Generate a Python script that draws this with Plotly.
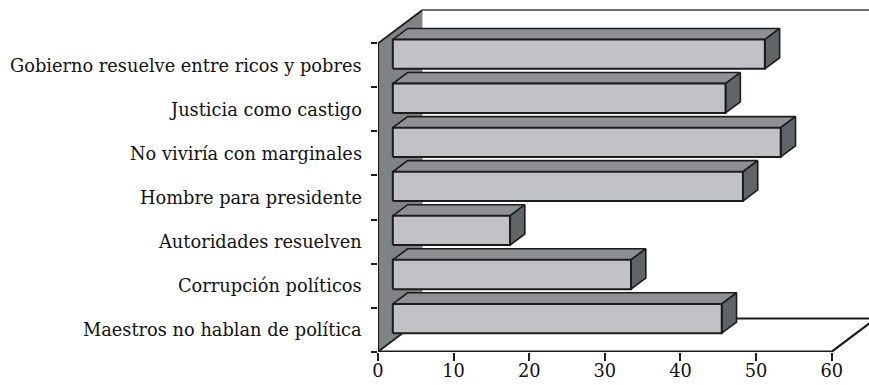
import plotly.graph_objects as go

# ---- data -------------------------------------------------------------
categories = [
    "Gobierno resuelve entre ricos y pobres",
    "Justicia como castigo",
    "No viviría con marginales",
    "Hombre para presidente",
    "Autoridades resuelven",
    "Corrupción políticos",
    "Maestros no hablan de política",
]
values = [49.2, 44.0, 51.3, 46.3, 15.5, 31.5, 43.5]
x_tickvals = [0, 10, 20, 30, 40, 50, 60]
x_ticktext = ["0", "10", "20", "30", "40", "50", "60"]

# ---- layout geometry --------------------------------------------------
W, H = 869, 385
X0_PX = 378.3          # screen x of value 0 on the front plane
PX_PER_X = 7.557       # pixels per value unit
Y0_PX = 351.7          # screen y of the front floor edge
PX_PER_Y = 44.06       # pixels per category band
PLOT_BOTTOM = 352
DEPTH_PX = (44.4, 33.3)  # oblique depth of the chart box (right, up)
X_MAX = 60

DX = DEPTH_PX[0] / PX_PER_X
DY = DEPTH_PX[1] / PX_PER_Y
BAR_H = 0.665            # bar thickness as a fraction of a category band
N = len(categories)

FONT = "DejaVu Serif"
EDGE = "#1c1c1c"
C_FRONT = "#c1c2c6"
C_TOP = "#8e9094"
C_SIDE = "#5f6567"
C_WALL = "#7f8385"

fig = go.Figure()


def poly(xs, ys, fill, lw=1.6, color=EDGE):
    fig.add_trace(go.Scatter(
        x=xs + xs[:1], y=ys + ys[:1], mode="lines", fill="toself",
        fillcolor=fill, line=dict(color=color, width=lw),
        hoverinfo="skip", showlegend=False))


def seg(xs, ys, lw=2, color=EDGE):
    fig.add_trace(go.Scatter(
        x=xs, y=ys, mode="lines", line=dict(color=color, width=lw),
        hoverinfo="skip", showlegend=False))


# left wall
fig.add_trace(go.Scatter(
    x=[0, 0, DX, DX, 0], y=[0, N, N + DY, DY, 0], mode="lines",
    fill="toself", fillcolor=C_WALL, line=dict(width=0),
    hoverinfo="skip", showlegend=False))
seg([0, DX], [N, N + DY], lw=1.8)
seg([0, DX], [0, DY], lw=1.8)
# back wall top edge and floor back edge
seg([DX, X_MAX + DX], [N + DY, N + DY], lw=1.6, color="#3a3a3a")
seg([DX, X_MAX + DX], [DY, DY], lw=2)
# front floor edge and right floor edge
seg([0, X_MAX, X_MAX + DX], [0, 0, DY], lw=2.2)
# category axis line
seg([0, 0], [0, N], lw=2.2)

# bars (front face at one third of the depth, back at two thirds)
fx, fy = DX / 3, DY / 3
bx, by = 2 * DX / 3, 2 * DY / 3
for k, (cat, v) in enumerate(zip(categories, values)):
    j = N - 1 - k
    y0 = j + 0.5 - BAR_H / 2
    y1 = j + 0.5 + BAR_H / 2
    # top face
    poly([fx, fx + v, bx + v, bx], [y1 + fy, y1 + fy, y1 + by, y1 + by], C_TOP)
    # side face
    poly([fx + v, bx + v, bx + v, fx + v], [y0 + fy, y0 + by, y1 + by, y1 + fy], C_SIDE)
    # front face
    poly([fx, fx + v, fx + v, fx], [y0 + fy, y0 + fy, y1 + fy, y1 + fy], C_FRONT, lw=2)

# category labels
for k, cat in enumerate(categories):
    j = N - 1 - k
    fig.add_annotation(
        x=0, y=j + 0.5, xref="x", yref="y", text=cat, showarrow=False,
        xanchor="right", yanchor="middle", xshift=-14,
        font=dict(family=FONT, size=17.8, color="#111111"))

fig.update_layout(
    width=W, height=H,
    margin=dict(l=X0_PX, r=0, t=0, b=H - PLOT_BOTTOM, autoexpand=False),
    paper_bgcolor="white", plot_bgcolor="white",
    xaxis=dict(
        range=[0, (W - X0_PX) / PX_PER_X], showgrid=False, zeroline=False,
        showline=False, tickmode="array", tickvals=x_tickvals,
        ticktext=x_ticktext, ticks="outside", ticklen=8, tickwidth=2,
        tickcolor=EDGE, ticklabelstandoff=-5,
        tickfont=dict(family=FONT, size=17.8, color="#111111"),
        fixedrange=True),
    yaxis=dict(
        range=[-(PLOT_BOTTOM - Y0_PX) / PX_PER_Y, Y0_PX / PX_PER_Y],
        showgrid=False, zeroline=False, showline=False, tickmode="array",
        tickvals=list(range(N + 1)), ticks="outside", ticklen=6, tickwidth=2,
        tickcolor=EDGE, showticklabels=False, fixedrange=True),
)

fig.write_html("out.html")
